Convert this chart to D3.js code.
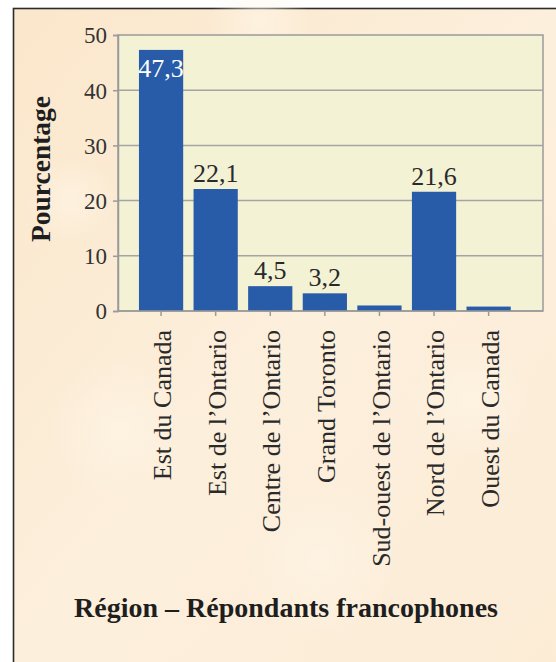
<!DOCTYPE html>
<html>
<head>
<meta charset="utf-8">
<script src="https://cdn.jsdelivr.net/npm/d3@7"></script>
<style>
  html, body { margin: 0; padding: 0; background: #ffffff; }
  svg { display: block; }
</style>
</head>
<body>
<svg id="chart" width="556" height="662"></svg>
<script>
const categories = ["Est du Canada", "Est de l’Ontario", "Centre de l’Ontario", "Grand Toronto", "Sud-ouest de l’Ontario", "Nord de l’Ontario", "Ouest du Canada"];
const values = [47.3, 22.1, 4.5, 3.2, 1.0, 21.6, 0.8];
const valueLabels = ["47,3", "22,1", "4,5", "3,2", "", "21,6", ""];
const yTicks = [0, 10, 20, 30, 40, 50];
const yTitle = "Pourcentage";
const xTitle = "Région – Répondants francophones";

const svg = d3.select("#chart");
const defs = svg.append("defs");

const lg = defs.append("linearGradient").attr("id", "parch").attr("x1", 0).attr("y1", 0).attr("x2", 1).attr("y2", 1);
lg.append("stop").attr("offset", "0%").attr("stop-color", "#fbe7cb");
lg.append("stop").attr("offset", "50%").attr("stop-color", "#fcefdc");
lg.append("stop").attr("offset", "100%").attr("stop-color", "#fcecd6");

const rg = defs.append("radialGradient").attr("id", "blot");
rg.append("stop").attr("offset", "0%").attr("stop-color", "#fff6e8").attr("stop-opacity", 0.6);
rg.append("stop").attr("offset", "100%").attr("stop-color", "#fff6e8").attr("stop-opacity", 0);

const serif = "'Liberation Serif', 'Times New Roman', serif";

// frame
svg.append("rect").attr("x", 13.5).attr("y", 8.5).attr("width", 560).attr("height", 670)
  .attr("fill", "url(#parch)").attr("stroke", "#2b2b2b").attr("stroke-width", 1.6);
const blots = [[120, 430, 70], [320, 560, 80], [470, 400, 60], [70, 200, 45], [260, 20, 50]];
svg.append("g").selectAll("circle").data(blots).join("circle")
  .attr("cx", d => d[0]).attr("cy", d => d[1]).attr("r", d => d[2]).attr("fill", "url(#blot)");

const plot = { left: 118, right: 543, top: 35, bottom: 311 };

const y = d3.scaleLinear().domain([0, 50]).range([plot.bottom, plot.top]);
const x = d3.scaleBand().domain(categories).range([133.5, 516.2]).paddingInner(0.19).paddingOuter(0.1);

// plot background
svg.append("rect").attr("x", plot.left).attr("y", plot.top)
  .attr("width", plot.right - plot.left).attr("height", plot.bottom - plot.top)
  .attr("fill", "#f3f2d5").attr("stroke", "#9a9a9a").attr("stroke-width", 1.5);

// gridlines
svg.append("g").selectAll("line").data(yTicks.filter(t => t > 0 && t < 50)).join("line")
  .attr("x1", plot.left).attr("x2", plot.right)
  .attr("y1", d => y(d)).attr("y2", d => y(d))
  .attr("stroke", "#a4a4a4").attr("stroke-width", 1.5);

// bars
svg.append("g").selectAll("rect").data(categories).join("rect")
  .attr("x", d => x(d)).attr("width", x.bandwidth())
  .attr("y", (d, i) => y(values[i])).attr("height", (d, i) => y(0) - y(values[i]))
  .attr("fill", "#285ba8");

// value labels
svg.append("g").selectAll("text").data(categories).join("text")
  .attr("x", d => x(d) + x.bandwidth() / 2)
  .attr("y", (d, i) => values[i] > 40 ? y(values[i]) + 27 : y(values[i]) - 7)
  .attr("text-anchor", "middle")
  .attr("font-family", serif).attr("font-size", 26)
  .attr("fill", (d, i) => values[i] > 40 ? "#ffffff" : "#2a2a2a")
  .text((d, i) => valueLabels[i]);

// y axis
const yAxis = d3.axisLeft(y).tickValues(yTicks).tickSize(5).tickPadding(6).tickFormat(d3.format("d"));
const gy = svg.append("g").attr("transform", `translate(${plot.left},0)`).call(yAxis);
gy.select(".domain").attr("stroke", "#9a9a9a").attr("stroke-width", 1.5);
gy.selectAll(".tick line").attr("stroke", "#9a9a9a").attr("stroke-width", 1.5);
gy.selectAll(".tick text").attr("font-family", serif).attr("font-size", 23).attr("fill", "#333").attr("dy", "0.34em");

// x axis
const xAxis = d3.axisBottom(x).tickSize(5).tickSizeOuter(0).tickPadding(0);
const gx = svg.append("g").attr("transform", `translate(0,${plot.bottom})`).call(xAxis);
gx.select(".domain").attr("stroke", "#9a9a9a").attr("stroke-width", 1.5)
  .attr("d", `M${plot.left},0H${plot.right}`);
gx.selectAll(".tick line").attr("stroke", "#9a9a9a").attr("stroke-width", 1.5);
gx.selectAll(".tick text")
  .attr("font-family", serif).attr("font-size", 26).attr("fill", "#2a2a2a")
  .attr("text-anchor", "end")
  .attr("transform", "translate(1,19) rotate(-90)")
  .attr("x", 0).attr("y", 0).attr("dy", "0.35em");

// titles
svg.append("text")
  .attr("transform", `translate(50,169) rotate(-90)`)
  .attr("text-anchor", "middle")
  .attr("font-family", serif).attr("font-weight", "bold").attr("font-size", 27.5).attr("fill", "#1e1e1e")
  .text(yTitle);

svg.append("text")
  .attr("x", 286).attr("y", 617)
  .attr("text-anchor", "middle")
  .attr("font-family", serif).attr("font-weight", "bold").attr("font-size", 28).attr("fill", "#1e1e1e")
  .text(xTitle);
</script>
</body>
</html>
